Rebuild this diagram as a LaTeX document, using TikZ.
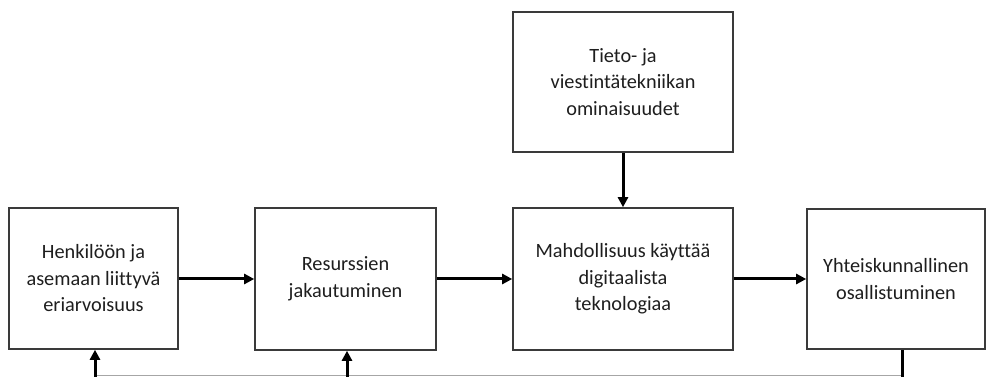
\documentclass[tikz,border=0pt]{standalone}
\usepackage{fontspec}
\setmainfont{Carlito}[Ligatures=NoCommon]
\usetikzlibrary{arrows.meta,calc}
\definecolor{boxline}{HTML}{3A3A3A}
\definecolor{txt}{HTML}{1E1E1E}
\tikzset{
  box/.style={draw=boxline,line width=1.6pt,align=center,text=txt,inner sep=2pt,
    font=\fontsize{20.3}{26.5}\selectfont},
  arr/.style={line width=3pt,-{Triangle[length=10pt,width=10pt]}},
  fb/.style={line width=3pt},
  thinl/.style={draw=gray!70,line width=0.9pt}
}
\begin{document}
\begin{tikzpicture}[x=1pt,y=1pt]
\useasboundingbox (0,0) rectangle (987,377);
\node[box,minimum width=169pt,minimum height=141pt] (b1) at (93.5,98.5) {Henkilöön ja\\asemaan liittyvä\\eriarvoisuus};
\node[box,minimum width=181pt,minimum height=142pt] (b2) at (345.5,98) {Resurssien\\jakautuminen};
\node[box,minimum width=220pt,minimum height=140pt] (b3) at (623,295) {Tieto- ja\\viestintätekniikan\\ominaisuudet};
\node[box,minimum width=220pt,minimum height=142pt] (b4) at (623,98) {Mahdollisuus käyttää\\digitaalista\\teknologiaa};
\node[box,minimum width=178pt,minimum height=140pt] (b5) at (896,98) {Yhteiskunnallinen\\osallistuminen};
\coordinate (c1) at (95,0);
\coordinate (c2) at (347,0);
\coordinate (c5) at (902,0);
\draw[arr] (b1.east |- 0,98) -- (b2.west |- 0,98);
\draw[arr] (b2) -- (b4);
\draw[arr] (b4) -- (b5);
\draw[arr] (b3) -- (b4);
\draw[thinl] ($(c1)+(0,1.5)$) -- ($(c5)+(0,1.5)$);
\draw[fb] (b5.south -| c5) -- (c5);
\draw[arr] (c1) -- (b1.south -| c1);
\draw[arr] (c2) -- (b2.south -| c2);
\end{tikzpicture}
\end{document}
